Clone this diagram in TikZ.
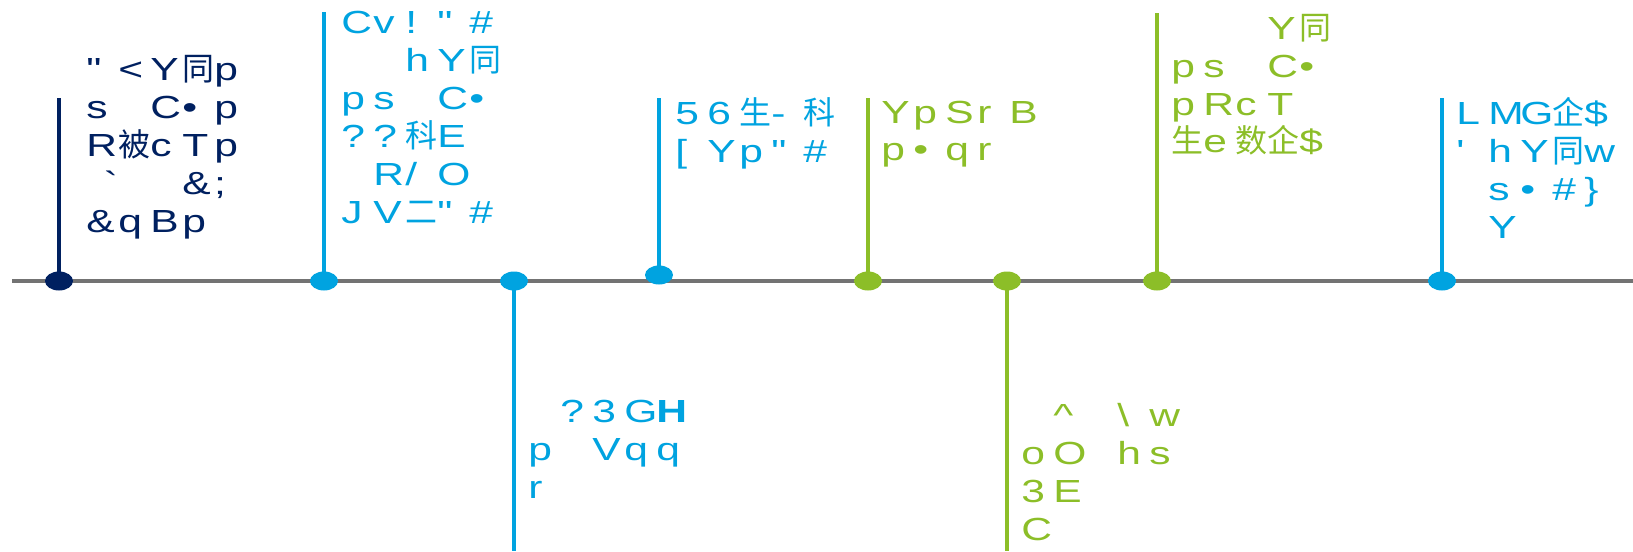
\documentclass[tikz,border=0pt]{standalone}
\usepackage{fontspec}
\newfontfamily\lbl{Liberation Sans}[FakeStretch=1.33]
\newfontfamily\cjk{Noto Sans CJK SC}
\usetikzlibrary{shapes.geometric}

\definecolor{navy}{RGB}{0,32,96}
\definecolor{sky}{RGB}{0,163,224}
\definecolor{leaf}{RGB}{140,190,40}
\definecolor{axisgray}{RGB}{115,115,115}

% 每个字占一格
\makeatletter
\newcommand\gline[1]{\@tfor\gch:=#1\do{\makebox[1em][l]{\gch}}}
\makeatother

\begin{document}
\begin{tikzpicture}[
    dot/.style={ellipse, inner sep=0pt, minimum width=0.56cm, minimum height=0.38cm},
    stem/.style={line width=0.08cm},
    lbl/.style={anchor=base west, inner sep=0pt, align=left,
        font=\lbl\fontsize{18.2}{21.6}\selectfont}
]
    \useasboundingbox (0,0) rectangle (32.66,11.02);

    % 时间轴
    \coordinate (a0) at (0.24,5.40);
    \coordinate (a1) at (32.66,5.40);
    \draw[axisgray, line width=0.09cm] (a0) -- (a1);

    % 圆点
    \node[dot, fill=navy] (d1) at (1.18,5.40) {};
    \node[dot, fill=sky]  (d2) at (6.48,5.40) {};
    \node[dot, fill=sky]  (d3) at (10.28,5.40) {};
    \node[dot, fill=sky]  (d4) at (13.18,5.52) {};
    \node[dot, fill=leaf] (d5) at (17.36,5.40) {};
    \node[dot, fill=leaf] (d6) at (20.14,5.40) {};
    \node[dot, fill=leaf] (d7) at (23.14,5.40) {};
    \node[dot, fill=sky]  (d8) at (28.84,5.40) {};

    % 竖线
    \coordinate (s1) at (1.18,9.06);
    \coordinate (s2) at (6.48,10.78);
    \coordinate (s3) at (10.28,0);
    \coordinate (s4) at (13.18,9.06);
    \coordinate (s5) at (17.36,9.06);
    \coordinate (s6) at (20.14,0);
    \coordinate (s7) at (23.14,10.76);
    \coordinate (s8) at (28.84,9.06);
    \draw[stem, navy] (d1.center) -- (s1);
    \draw[stem, sky]  (d2.center) -- (s2);
    \draw[stem, sky]  (d3.center) -- (s3);
    \draw[stem, sky]  (d4.center) -- (s4);
    \draw[stem, leaf] (d5.center) -- (s5);
    \draw[stem, leaf] (d6.center) -- (s6);
    \draw[stem, leaf] (d7.center) -- (s7);
    \draw[stem, sky]  (d8.center) -- (s8);

    % 文字（基线取最后一行）
    \node[lbl, navy] (t1) at (1.72,6.38) {\gline{"<Y{\cjk 同}p}\\
        \gline{s{}C•p}\\
        \gline{R{\cjk 被}cTp}\\
        \gline{{\hspace{.55em}`}{}{}\&;}\\
        \gline{\&qBp}};
    \node[lbl, sky] (t2) at (6.82,6.56) {\gline{Cv!"\#}\\
        \gline{{}{}hY{\cjk 同}}\\
        \gline{ps{}C•}\\
        \gline{??{\cjk 科}E}\\
        \gline{{}R/O}\\
        \gline{JV{\cjk 二}"\#}};
    \node[lbl, sky] (t3) at (10.56,1.06) {\gline{{}?3G{\bfseries H}}\\
        \gline{p{}Vqq}\\
        \gline{r}};
    \node[lbl, sky] (t4) at (13.50,7.78) {\gline{56{\cjk 生}-{\cjk 科}}\\
        \gline{[Yp"\#}};
    \node[lbl, leaf] (t5) at (17.62,7.80) {\gline{YpSrB}\\
        \gline{p•qr}};
    \node[lbl, leaf] (t6) at (20.42,0.22) {\gline{{}\textasciicircum{}\textbackslash w}\\
        \gline{oO{}hs}\\
        \gline{3E}\\
        \gline{C}};
    \node[lbl, leaf] (t7) at (23.42,7.96) {\gline{{}{}{}Y{\cjk 同}}\\
        \gline{ps{}C•}\\
        \gline{pRcT}\\
        \gline{{\cjk 生}e{\cjk 数}{\cjk 企}\$}};
    \node[lbl, sky] (t8) at (29.12,6.26) {\gline{LMG{\cjk 企}\$}\\
        \gline{'hY{\cjk 同}w}\\
        \gline{{}s•\#\}}\\
        \gline{{}Y}};
\end{tikzpicture}
\end{document}
